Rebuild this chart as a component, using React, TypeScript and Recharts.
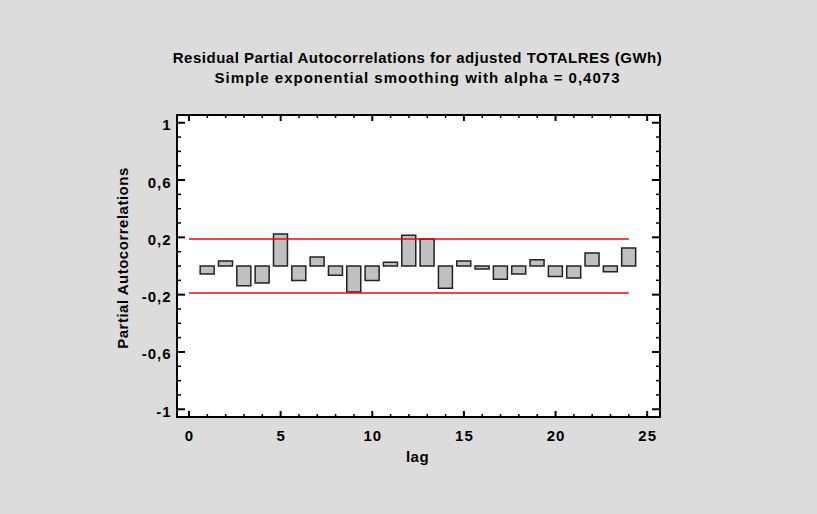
import React from 'react';
import {
  ComposedChart,
  Bar,
  Line,
  XAxis,
  YAxis,
  ReferenceLine,
  CartesianGrid,
  Label,
} from 'recharts';

const lags = [1, 2, 3, 4, 5, 6, 7, 8, 9, 10, 11, 12, 13, 14, 15, 16, 17, 18, 19, 20, 21, 22, 23, 24];
const pacf = [
  -0.056, 0.035, -0.137, -0.119, 0.223, -0.102, 0.063, -0.065, -0.181, -0.102, 0.026, 0.214,
  0.188, -0.156, 0.035, -0.021, -0.093, -0.056, 0.044, -0.074, -0.084, 0.091, -0.04, 0.126,
];
const limit = 0.188;
const limitStartLag = 0;
const limitEndLag = 24;

const xTicks = [0, 1, 2, 3, 4, 5, 6, 7, 8, 9, 10, 11, 12, 13, 14, 15, 16, 17, 18, 19, 20, 21, 22, 23, 24, 25];
const xMajor = [0, 5, 10, 15, 20, 25];
const yTicks = [-1, -0.9, -0.8, -0.7, -0.6, -0.5, -0.4, -0.3, -0.2, -0.1, 0, 0.1, 0.2, 0.3, 0.4, 0.5, 0.6, 0.7, 0.8, 0.9, 1];
const yMajor = [-1, -0.6, -0.2, 0.2, 0.6, 1];
const yMajorLabels = ['-1', '-0,6', '-0,2', '0,2', '0,6', '1'];

const titleLine1 = 'Residual Partial Autocorrelations for adjusted TOTALRES (GWh)';
const titleLine2 = 'Simple exponential smoothing with alpha = 0,4073';
const xTitle = 'lag';
const yTitle = 'Partial Autocorrelations';

const data = lags.map((lag, i) => ({ lag, value: pacf[i] }));

const FONT = '"Liberation Sans", Arial, Helvetica, sans-serif';
const xDomain: [number, number] = [-0.655, 25.7];
const yDomain: [number, number] = [-1.054, 1.054];

const isXMajor = (v: number) => xMajor.some((m) => Math.abs(m - v) < 1e-6);
const yMajorIndex = (v: number) => yMajor.findIndex((m) => Math.abs(m - v) < 1e-6);

const BottomTick = (props: any) => {
  const { x, y, payload } = props;
  const major = isXMajor(payload.value);
  return (
    <g>
      <line x1={x} x2={x} y1={y} y2={y - (major ? 6 : 3)} stroke="#000" strokeWidth={major ? 2 : 1.5} />
      {major && (
        <text
          x={x + 0.5}
          y={y + 24}
          textAnchor="middle"
          fontFamily={FONT}
          fontWeight="bold"
          fontSize={15}
          letterSpacing={1}
          fill="#000"
        >
          {payload.value}
        </text>
      )}
    </g>
  );
};

const TopTick = (props: any) => {
  const { x, y, payload } = props;
  const major = isXMajor(payload.value);
  return (
    <line x1={x} x2={x} y1={y} y2={y + (major ? 6 : 3)} stroke="#000" strokeWidth={major ? 2 : 1.5} />
  );
};

const LeftTick = (props: any) => {
  const { x, y, payload } = props;
  const idx = yMajorIndex(payload.value);
  const major = idx >= 0;
  return (
    <g>
      <line x1={x} x2={x + (major ? 8 : 4)} y1={y} y2={y} stroke="#000" strokeWidth={major ? 2 : 1.5} />
      {major && (
        <text
          x={x - 5.5}
          y={y + 7.5}
          textAnchor="end"
          fontFamily={FONT}
          fontWeight="bold"
          fontSize={15}
          letterSpacing={1}
          fill="#000"
        >
          {yMajorLabels[idx]}
        </text>
      )}
    </g>
  );
};

const RightTick = (props: any) => {
  const { x, y, payload } = props;
  const major = yMajorIndex(payload.value) >= 0;
  return (
    <line x1={x} x2={x - (major ? 8 : 4)} y1={y} y2={y} stroke="#000" strokeWidth={major ? 2 : 1.5} />
  );
};

const axisLineStyle = { stroke: '#000', strokeWidth: 2, strokeLinecap: 'square' as const };

export default function App() {
  return (
    <div
      style={{
        position: 'absolute',
        left: 0,
        top: 0,
        width: 817,
        height: 514,
        background: '#dcdcdc',
        overflow: 'hidden',
      }}
    >
      <ComposedChart
        width={817}
        height={514}
        data={data}
        margin={{ top: 114, right: 156, bottom: 0, left: 0 }}
      >
        <CartesianGrid fill="#ffffff" stroke="none" horizontal={false} vertical={false} xAxisId={0} yAxisId={0} />
        <XAxis
          xAxisId={0}
          dataKey="lag"
          type="number"
          domain={xDomain}
          allowDataOverflow
          ticks={xTicks}
          interval={0}
          height={97}
          tickSize={0}
          tickMargin={0}
          tickLine={false}
          axisLine={axisLineStyle}
          tick={<BottomTick />}
        >
          <Label
            content={(p: any) => {
              const vb = p.viewBox;
              return (
                <text
                  x={vb.x + vb.width / 2 - 1}
                  y={vb.y + 45}
                  textAnchor="middle"
                  fontFamily={FONT}
                  fontWeight="bold"
                  fontSize={15}
                  letterSpacing={0.5}
                  fill="#000"
                >
                  {xTitle}
                </text>
              );
            }}
          />
        </XAxis>
        <XAxis
          xAxisId="top"
          orientation="top"
          dataKey="lag"
          type="number"
          domain={xDomain}
          allowDataOverflow
          ticks={xTicks}
          interval={0}
          height={1}
          tickSize={0}
          tickMargin={0}
          tickLine={false}
          axisLine={axisLineStyle}
          tick={<TopTick />}
        />
        <YAxis
          yAxisId={0}
          type="number"
          domain={yDomain}
          allowDataOverflow
          ticks={yTicks}
          interval={0}
          width={177}
          tickSize={0}
          tickMargin={0}
          tickLine={false}
          axisLine={axisLineStyle}
          tick={<LeftTick />}
        >
          <Label
            content={(p: any) => {
              const vb = p.viewBox;
              const cx = vb.x + vb.width - 49.5;
              const cy = vb.y + vb.height / 2 - 8;
              return (
                <text
                  x={cx}
                  y={cy}
                  transform={`rotate(-90, ${cx}, ${cy})`}
                  textAnchor="middle"
                  fontFamily={FONT}
                  fontWeight="bold"
                  fontSize={15}
                  letterSpacing={0.5}
                  fill="#000"
                >
                  {yTitle}
                </text>
              );
            }}
          />
        </YAxis>
        <YAxis
          yAxisId="right"
          orientation="right"
          type="number"
          domain={yDomain}
          allowDataOverflow
          ticks={yTicks}
          interval={0}
          width={1}
          tickSize={0}
          tickMargin={0}
          tickLine={false}
          axisLine={axisLineStyle}
          tick={<RightTick />}
        />
        <Line
          xAxisId="top"
          yAxisId="right"
          dataKey="value"
          stroke="none"
          dot={false}
          activeDot={false}
          legendType="none"
          isAnimationActive={false}
        />
        <Bar
          xAxisId={0}
          yAxisId={0}
          dataKey="value"
          barSize={14}
          fill="#c0c0c0"
          stroke="#222222"
          strokeWidth={1.5}
          isAnimationActive={false}
        />
        <ReferenceLine
          xAxisId={0}
          yAxisId={0}
          segment={[
            { x: limitStartLag, y: limit },
            { x: limitEndLag, y: limit },
          ]}
          stroke="#ff0000"
          strokeWidth={1.5}
        />
        <ReferenceLine
          xAxisId={0}
          yAxisId={0}
          segment={[
            { x: limitStartLag, y: -limit },
            { x: limitEndLag, y: -limit },
          ]}
          stroke="#ff0000"
          strokeWidth={1.5}
        />
      </ComposedChart>
      <svg
        width={817}
        height={120}
        style={{ position: 'absolute', left: 0, top: 0, pointerEvents: 'none' }}
      >
        <text
          x={417.5}
          y={63.3}
          textAnchor="middle"
          fontFamily={FONT}
          fontWeight="bold"
          fontSize={15}
          letterSpacing={0.5}
          fill="#000"
        >
          {titleLine1}
        </text>
        <text
          x={417.5}
          y={83.3}
          textAnchor="middle"
          fontFamily={FONT}
          fontWeight="bold"
          fontSize={15}
          letterSpacing={1}
          fill="#000"
        >
          {titleLine2}
        </text>
      </svg>
    </div>
  );
}
